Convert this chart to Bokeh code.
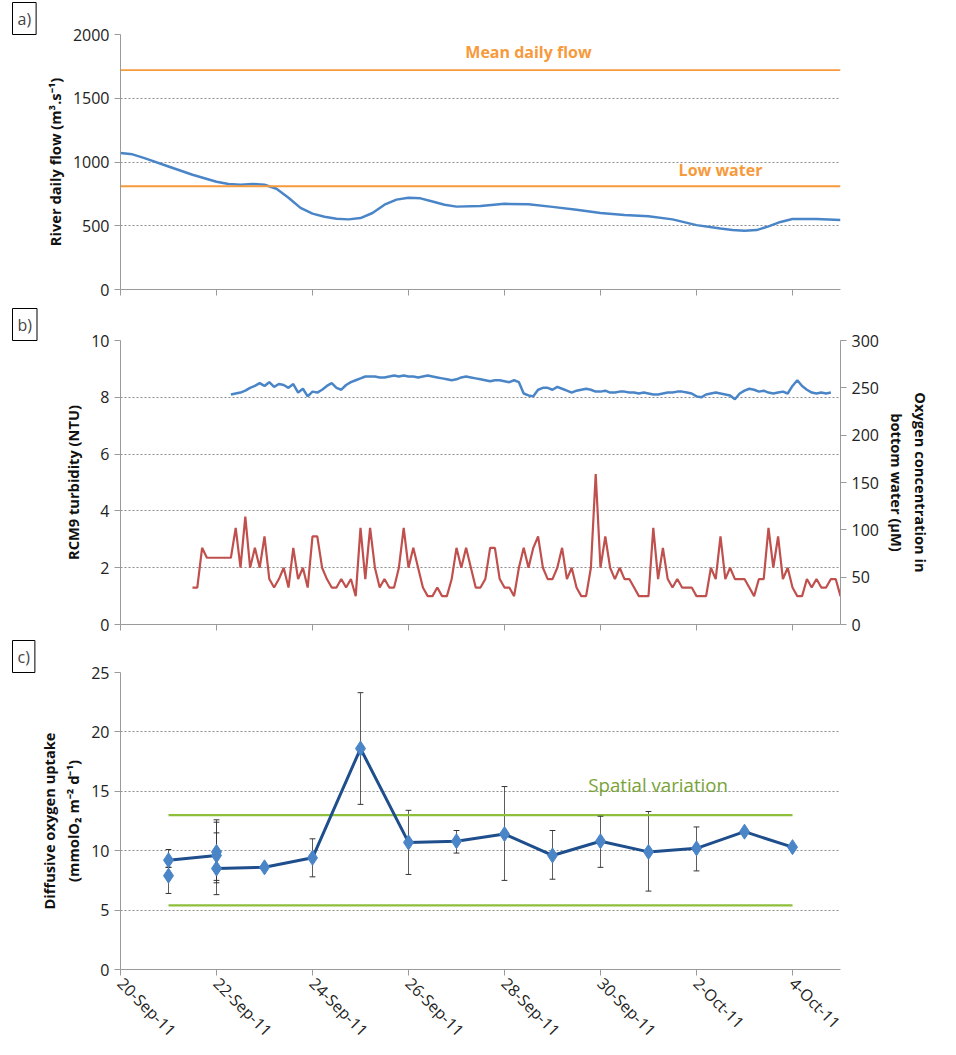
import numpy as np
from bokeh.plotting import figure
from bokeh.layouts import column
from bokeh.models import Range1d, LinearAxis, FixedTicker, Title, Whisker, ColumnDataSource
from bokeh.embed import file_html
from bokeh.resources import INLINE

FONT = "Open Sans"
date_ticks = [0, 2, 4, 6, 8, 10, 12, 14]
date_labels = ["20-Sep-11", "22-Sep-11", "24-Sep-11", "26-Sep-11", "28-Sep-11", "30-Sep-11", "2-Oct-11", "4-Oct-11"]

# a) river flow (day offset from 20-Sep-11)
flow_day = [0, 0.25, 0.5, 1, 1.5, 2, 2.25, 2.5, 2.75, 3, 3.25, 3.5, 3.75, 4, 4.25, 4.5, 4.75, 5, 5.25, 5.5, 5.75, 6, 6.25, 6.5, 6.75, 7, 7.5, 8, 8.5, 9, 9.5, 10, 10.5, 11, 11.5, 12, 12.5, 12.75, 13, 13.25, 13.5, 13.75, 14, 14.5, 15]
flow_val = [1070, 1060, 1030, 965, 900, 845, 828, 822, 828, 822, 790, 720, 640, 595, 570, 555, 550, 560, 600, 665, 705, 720, 715, 690, 665, 650, 655, 672, 668, 648, 625, 600, 585, 575, 550, 505, 478, 466, 460, 466, 495, 530, 553, 552, 545]
mean_flow = 1720
low_water = 810

# b) turbidity (NTU) and oxygen (uM)
turb_start = 1.5
turb_step = 0.1
turb_val = [1.3, 1.3, 2.7, 2.35, 2.35, 2.35, 2.35, 2.35, 2.35, 3.4, 2.0, 3.8, 2.0, 2.7, 2.0, 3.1, 1.6, 1.3, 1.6, 2.0, 1.3, 2.7, 1.6, 2.0, 1.3, 3.1, 3.1, 2.0, 1.6, 1.3,
            1.3, 1.6, 1.3, 1.6, 1.0, 3.4, 1.6, 3.4, 2.0, 1.3, 1.6, 1.3, 1.3, 2.0, 3.4, 2.0, 2.7, 2.0, 1.3, 1.0, 1.0, 1.3, 1.0, 1.0, 1.6, 2.7, 2.0, 2.7, 2.0, 1.3,
            1.3, 1.6, 2.7, 2.7, 1.6, 1.3, 1.3, 1.0, 2.0, 2.7, 2.0, 2.7, 3.1, 2.0, 1.6, 1.6, 2.0, 2.7, 1.6, 2.0, 1.3, 1.0, 1.0, 2.0, 5.3, 2.0, 3.1, 2.0, 1.6, 2.0,
            1.6, 1.6, 1.3, 1.0, 1.0, 1.0, 3.4, 1.6, 2.7, 1.6, 1.3, 1.6, 1.3, 1.3, 1.3, 1.0, 1.0, 1.0, 2.0, 1.6, 3.1, 1.6, 2.0, 1.6, 1.6, 1.6, 1.3, 1.0, 1.6, 1.6,
            3.4, 2.0, 3.1, 1.6, 2.0, 1.3, 1.0, 1.0, 1.6, 1.3, 1.6, 1.3, 1.3, 1.6, 1.6, 1.0, 1.6, 1.6, 9.0, 1.6, 1.3, 1.6, 1.3, 1.3, 1.3, 2.0, 1.3, 2.7, 3.4, 2.7, 2.0, 1.3, 1.6, 0.9]
oxy_start = 2.3
oxy_step = 0.1
oxy_val = [243, 244, 245, 247, 250, 252, 255, 252, 256, 251, 254, 253, 250, 254, 245, 249, 241, 246, 245, 248, 252, 255, 250, 248, 253, 256, 258, 260, 262, 262,
           262, 261, 261, 262, 263, 262, 263, 262, 262, 261, 262, 263, 262, 261, 260, 259, 258, 259, 261, 262, 261, 260, 259, 258, 257, 258, 258, 257, 256, 258,
           256, 244, 242, 241, 248, 250, 250, 248, 251, 249, 247, 245, 247, 248, 249, 248, 246, 246, 247, 245, 245, 246, 246, 245, 245, 244, 245, 244, 243, 243,
           244, 245, 245, 246, 246, 245, 244, 241, 240, 243, 244, 245, 244, 243, 242, 238, 244, 247, 249, 248, 246, 247, 245, 244, 245, 246, 244, 252, 258, 252,
           248, 245, 244, 245, 244, 245]

# c) diffusive oxygen uptake
dou_day = [1, 1, 2, 2, 2, 3, 4, 5, 6, 7, 8, 9, 10, 11, 12, 13, 14]
dou_val = [9.2, 7.9, 9.6, 9.9, 8.5, 8.6, 9.4, 18.6, 10.7, 10.8, 11.4, 9.6, 10.8, 9.9, 10.2, 11.6, 10.3]
dou_hi = [10.1, 8.6, 12.4, 12.6, 11.5, 8.6, 11.0, 23.3, 13.4, 11.7, 15.4, 11.7, 12.9, 13.3, 12.0, 11.6, 10.3]
dou_lo = [8.6, 6.4, 7.5, 7.3, 6.3, 8.6, 7.8, 13.9, 8.0, 9.8, 7.5, 7.6, 8.6, 6.6, 8.3, 11.6, 10.3]
line_order = [0, 2, 4, 5, 6, 7, 8, 9, 10, 11, 12, 13, 14, 15, 16]
spatial_hi = 13.0
spatial_lo = 5.4
spatial_x = [1, 14]

ORANGE = "#F79A3C"
BLUE = "#4A85C8"
RED = "#C0504D"
DBLUE = "#1F4E8C"
GREEN = "#8DBF3A"
GRID = "#8C8C8C"
AXC = "#9A9A9A"


def style(p, show_labels=False):
    p.xgrid.visible = False
    p.ygrid.grid_line_color = GRID
    p.ygrid.grid_line_dash = "2 2"
    p.outline_line_color = None
    p.x_range = Range1d(0, 15)
    p.xaxis.ticker = FixedTicker(ticks=date_ticks)
    for ax in p.axis:
        ax.axis_line_color = AXC
        ax.major_tick_line_color = AXC
        ax.minor_tick_line_color = None
        ax.major_tick_out = 6
        ax.major_tick_in = 0
        ax.major_label_text_font = FONT
        ax.major_label_text_font_size = "12pt"
        ax.major_label_text_color = "#222222"
        ax.axis_label_text_font = FONT
        ax.axis_label_text_font_style = "bold"
        ax.axis_label_text_font_size = "11pt"
        ax.axis_label_text_color = "#111111"
    if show_labels:
        p.xaxis.major_label_overrides = {t: l for t, l in zip(date_ticks, date_labels)}
        p.xaxis.major_label_orientation = -0.785
    else:
        p.xaxis.major_label_overrides = {t: "" for t in date_ticks}


def panel_label(p, txt):
    p.add_layout(Title(text=txt, align="left", offset=-108, text_font=FONT, text_font_size="12pt",
                       text_font_style="normal", border_line_color="black", border_line_width=1,
                       background_fill_color="white", padding=5, standoff=0), "above")


# a
pa = figure(frame_width=720, frame_height=255, min_border_left=120, min_border_right=100,
            min_border_top=8, min_border_bottom=17, output_backend="svg", toolbar_location=None)
pa.y_range = Range1d(0, 2000)
pa.line(flow_day, flow_val, line_color=BLUE, line_width=2.5)
pa.line([0, 15], [mean_flow, mean_flow], line_color=ORANGE, line_width=1.8)
pa.line([0, 15], [low_water, low_water], line_color=ORANGE, line_width=1.8)
pa.text([8.5], [mean_flow + 60], text=["Mean daily flow"], text_color=ORANGE, text_font_size="12pt",
        text_font_style="bold", text_align="center", text_font={"value": FONT})
pa.text([12.5], [low_water + 40], text=["Low water"], text_color=ORANGE, text_font_size="12pt",
        text_font_style="bold", text_align="center", text_font={"value": FONT})
pa.yaxis.ticker = FixedTicker(ticks=[0, 500, 1000, 1500, 2000])
pa.yaxis.axis_label = "River daily flow (m³.s⁻¹)"
style(pa)
panel_label(pa, "a)")

# b
pb = figure(frame_width=720, frame_height=284, min_border_left=120, min_border_right=100,
            min_border_top=10, min_border_bottom=14, output_backend="svg", toolbar_location=None)
pb.y_range = Range1d(0, 10)
pb.extra_y_ranges = {"oxy": Range1d(0, 300)}
tx = [turb_start + i * turb_step for i in range(len(turb_val))]
ox = [oxy_start + i * oxy_step for i in range(len(oxy_val))]
pb.line(tx, turb_val, line_color=RED, line_width=2.2)
pb.line(ox, oxy_val, line_color=BLUE, line_width=2.5, y_range_name="oxy")
pb.yaxis.ticker = FixedTicker(ticks=[0, 2, 4, 6, 8, 10])
pb.yaxis.axis_label = "RCM9 turbidity (NTU)"
rax = LinearAxis(y_range_name="oxy", ticker=FixedTicker(ticks=[0, 50, 100, 150, 200, 250, 300]),
                 axis_label="Oxygen concentration in\nbottom water (µM)")
pb.add_layout(rax, "right")
style(pb)
panel_label(pb, "b)")

# c
pc = figure(frame_width=720, frame_height=297, min_border_left=120, min_border_right=100,
            min_border_top=0, min_border_bottom=80, output_backend="svg", toolbar_location=None)
pc.y_range = Range1d(0, 25)
pc.line(spatial_x, [spatial_hi, spatial_hi], line_color=GREEN, line_width=2.2)
pc.line(spatial_x, [spatial_lo, spatial_lo], line_color=GREEN, line_width=2.2)
src = ColumnDataSource(dict(x=dou_day, y=dou_val, hi=dou_hi, lo=dou_lo))
pc.add_layout(Whisker(source=src, base="x", upper="hi", lower="lo", line_color="#333333", line_width=0.8,
                      upper_head=None, lower_head=None))
pc.segment(x0=[d - 0.06 for d in dou_day], x1=[d + 0.06 for d in dou_day], y0=dou_hi, y1=dou_hi, line_color="#333333")
pc.segment(x0=[d - 0.06 for d in dou_day], x1=[d + 0.06 for d in dou_day], y0=dou_lo, y1=dou_lo, line_color="#333333")
pc.line([dou_day[i] for i in line_order], [dou_val[i] for i in line_order], line_color=DBLUE, line_width=3)
pc.scatter(dou_day, dou_val, marker="diamond", size=15, fill_color=BLUE, line_color=BLUE)
pc.text([11.2], [14.5], text=["Spatial variation"], text_color="#77A336", text_font_size="14pt",
        text_align="center", text_font={"value": FONT})
pc.yaxis.ticker = FixedTicker(ticks=[0, 5, 10, 15, 20, 25])
pc.yaxis.axis_label = "Diffusive oxygen uptake\n(mmolO₂ m⁻² d⁻¹)"
style(pc, show_labels=True)
panel_label(pc, "c)")

lay = column(pa, pb, pc, spacing=0)
open("out.html", "w").write(file_html(lay, INLINE))
